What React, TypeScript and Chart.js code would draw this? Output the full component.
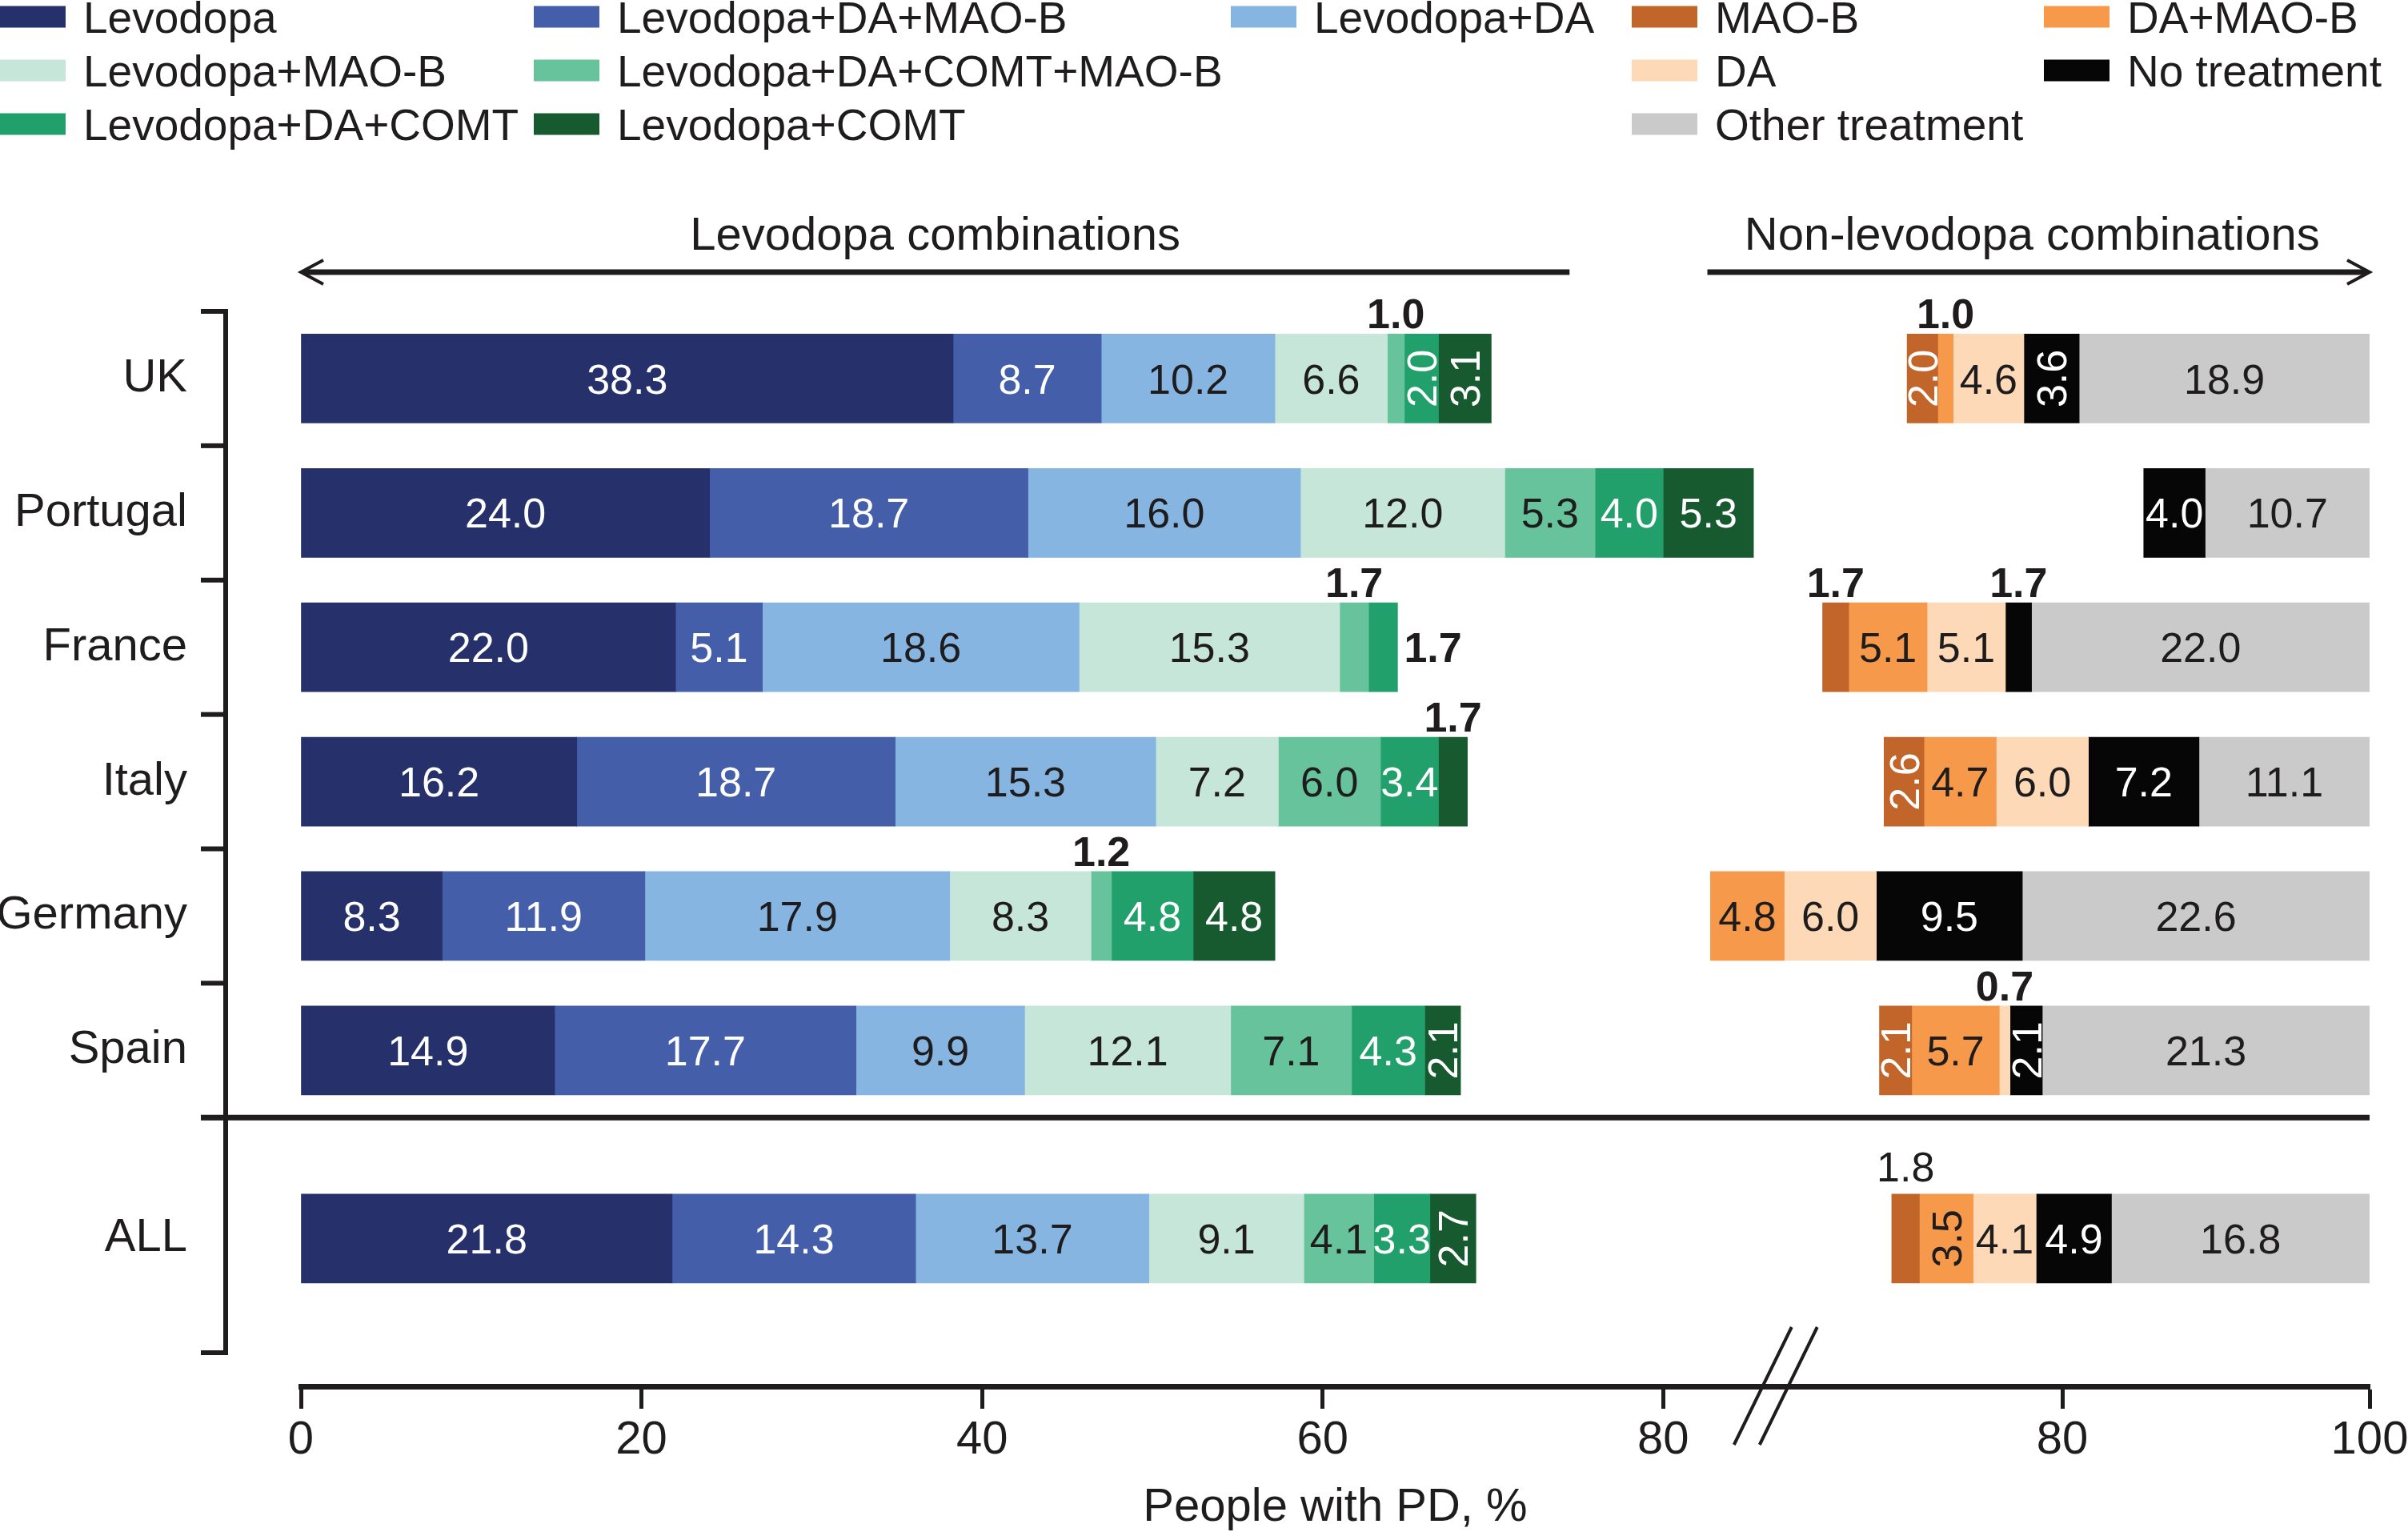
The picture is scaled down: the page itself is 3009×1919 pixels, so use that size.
import React, { useEffect, useRef } from 'react';
import { Chart, registerables } from 'chart.js';

Chart.register(...registerables);

// ---------------- Data ----------------
const countries = ['UK', 'Portugal', 'France', 'Italy', 'Germany', 'Spain', 'ALL'];

// Levodopa combinations (% of people with PD)
const levodopa = [38.3, 24.0, 22.0, 16.2, 8.3, 14.9, 21.8];
const levodopaDaMaob = [8.7, 18.7, 5.1, 18.7, 11.9, 17.7, 14.3];
const levodopaDa = [10.2, 16.0, 18.6, 15.3, 17.9, 9.9, 13.7];
const levodopaMaob = [6.6, 12.0, 15.3, 7.2, 8.3, 12.1, 9.1];
const levodopaDaComtMaob = [1.0, 5.3, 1.7, 6.0, 1.2, 7.1, 4.1];
const levodopaDaComt = [2.0, 4.0, 1.7, 3.4, 4.8, 4.3, 3.3];
const levodopaComt = [3.1, 5.3, 0, 1.7, 4.8, 2.1, 2.7];

// Non-levodopa combinations (% of people with PD)
const maob = [2.0, 0, 1.7, 2.6, 0, 2.1, 1.8];
const daMaob = [1.0, 0, 5.1, 4.7, 4.8, 5.7, 3.5];
const da = [4.6, 0, 5.1, 6.0, 6.0, 0.7, 4.1];
const noTreatment = [3.6, 4.0, 1.7, 7.2, 9.5, 2.1, 4.9];
const otherTreatment = [18.9, 10.7, 22.0, 11.1, 22.6, 21.3, 16.8];

const leftTickValues = [0, 20, 40, 60, 80];
const rightTickValues = [80, 100];

const leftSeries: [string, number[]][] = [
  ['Levodopa', levodopa],
  ['Levodopa+DA+MAO-B', levodopaDaMaob],
  ['Levodopa+DA', levodopaDa],
  ['Levodopa+MAO-B', levodopaMaob],
  ['Levodopa+DA+COMT+MAO-B', levodopaDaComtMaob],
  ['Levodopa+DA+COMT', levodopaDaComt],
  ['Levodopa+COMT', levodopaComt],
];
const rightSeries: [string, number[]][] = [
  ['MAO-B', maob],
  ['DA+MAO-B', daMaob],
  ['DA', da],
  ['No treatment', noTreatment],
  ['Other treatment', otherTreatment],
];

// ---------------- Styles / layout ----------------
const FONT = '"Liberation Sans", Arial, Helvetica, sans-serif';
const INK = '#1f1c1d';

const seriesColor: Record<string, string> = {
  'Levodopa': '#26316b',
  'Levodopa+DA+MAO-B': '#445eaa',
  'Levodopa+DA': '#86b5e1',
  'Levodopa+MAO-B': '#c6e6d9',
  'Levodopa+DA+COMT+MAO-B': '#67c39c',
  'Levodopa+DA+COMT': '#21a06b',
  'Levodopa+COMT': '#175a2f',
  'MAO-B': '#c1652b',
  'DA+MAO-B': '#f6994a',
  'DA': '#fdd9b7',
  'No treatment': '#060606',
  'Other treatment': '#c9cac9',
};
const seriesInk: Record<string, string> = {
  'Levodopa': '#ffffff',
  'Levodopa+DA+MAO-B': '#ffffff',
  'Levodopa+DA': INK,
  'Levodopa+MAO-B': INK,
  'Levodopa+DA+COMT+MAO-B': INK,
  'Levodopa+DA+COMT': '#ffffff',
  'Levodopa+COMT': '#ffffff',
  'MAO-B': '#ffffff',
  'DA+MAO-B': INK,
  'DA': INK,
  'No treatment': '#ffffff',
  'Other treatment': INK,
};

const legendGrid: (string | null)[][] = [
  ['Levodopa', 'Levodopa+DA+MAO-B', 'Levodopa+DA', 'MAO-B', 'DA+MAO-B'],
  ['Levodopa+MAO-B', 'Levodopa+DA+COMT+MAO-B', null, 'DA', 'No treatment'],
  ['Levodopa+DA+COMT', 'Levodopa+COMT', null, 'Other treatment', null],
];
const legendColX = [0, 667, 1538, 2039, 2554];
const legendRowY = [21, 88, 155];

// axis ranges (left part and right part share the plot width)
const X_MAX = 121.48;
const X2_MIN = -34.64;
const Y_MIN = -0.5;
const Y_MAX = 7.5;
const SUMMARY_GAP = 1.4;
const LEFT_ARROW_END = 74.5;
const RIGHT_ARROW_START = 56.9;
const BREAK_AT = 86.6;

const rowPos = countries.map((_, i) => (i < countries.length - 1 ? i : i - 1 + SUMMARY_GAP));
const toLeftAxis = (v: number) => ((v - X2_MIN) / (100 - X2_MIN)) * X_MAX;

function buildDatasets() {
  const sets: any[] = [];
  leftSeries.forEach(([label, vals], si) => {
    const data: any[] = [];
    vals.forEach((v, r) => {
      if (!(v > 0)) return;
      let start = 0;
      for (let k = 0; k < si; k++) start += leftSeries[k][1][r];
      data.push({ x: [start, start + v], y: rowPos[r], v, row: r });
    });
    sets.push({
      label, group: 'L', ink: seriesInk[label], xAxisID: 'x', yAxisID: 'y',
      backgroundColor: seriesColor[label], borderWidth: 0, grouped: false, barThickness: 111, data,
    });
  });
  rightSeries.forEach(([label, vals], si) => {
    const data: any[] = [];
    vals.forEach((v, r) => {
      if (!(v > 0)) return;
      let total = 0;
      rightSeries.forEach(([, vv]) => { total += vv[r]; });
      let start = 100 - total;
      for (let k = 0; k < si; k++) start += rightSeries[k][1][r];
      data.push({ x: [start, start + v], y: rowPos[r], v, row: r });
    });
    sets.push({
      label, group: 'R', ink: seriesInk[label], xAxisID: 'x2', yAxisID: 'y',
      backgroundColor: seriesColor[label], borderWidth: 0, grouped: false, barThickness: 111, data,
    });
  });
  return sets;
}

const segmentLabels = {
  id: 'segmentLabels',
  afterDatasetsDraw(chart: any) {
    const ctx = chart.ctx;
    const size = 52;
    const prevOutside: Record<string, boolean> = {};
    chart.data.datasets.forEach((ds: any, di: number) => {
      const meta = chart.getDatasetMeta(di);
      meta.data.forEach((el: any, i: number) => {
        const pt = ds.data[i];
        const { x, base, y, height } = el.getProps(['x', 'base', 'y', 'height'], true);
        const left = Math.min(x, base);
        const right = Math.max(x, base);
        const w = right - left;
        const cx = (left + right) / 2;
        const text = pt.v.toFixed(1);
        const key = ds.group + pt.row;
        const summary = pt.row === countries.length - 1;
        ctx.save();
        if (pt.v < 2) {
          ctx.font = `${summary ? 'normal' : 'bold'} ${size}px ${FONT}`;
          ctx.fillStyle = INK;
          ctx.textBaseline = 'alphabetic';
          if (prevOutside[key]) {
            ctx.textAlign = 'left';
            ctx.fillText(text, right + 8, y + size * 0.358);
          } else {
            ctx.textAlign = 'center';
            ctx.fillText(text, cx, y - height / 2 - (summary ? 16 : 7));
          }
          prevOutside[key] = true;
        } else {
          prevOutside[key] = false;
          ctx.font = `normal ${size}px ${FONT}`;
          ctx.fillStyle = ds.ink;
          ctx.textAlign = 'center';
          ctx.textBaseline = 'alphabetic';
          const tw = ctx.measureText(text).width;
          if (w >= tw - 3) {
            ctx.fillText(text, cx, y + size * 0.358);
          } else {
            ctx.translate(cx, y);
            ctx.rotate(-Math.PI / 2);
            ctx.fillText(text, 0, size * 0.358);
          }
        }
        ctx.restore();
      });
    });
  },
};

const decorations = {
  id: 'decorations',
  afterDraw(chart: any) {
    const ctx = chart.ctx;
    const xs = chart.scales.x;
    const x2s = chart.scales.x2;
    const ys = chart.scales.y;
    const area = chart.chartArea;
    ctx.save();
    ctx.strokeStyle = INK;
    ctx.fillStyle = INK;

    // ---- y axis line with boundary ticks (detached) ----
    const axisX = area.left - 94;
    const tickX = axisX - 31;
    const nCountries = countries.length - 1;
    const bottomVal = rowPos[countries.length - 1] + 0.85;
    ctx.lineWidth = 6;
    ctx.lineCap = 'butt';
    ctx.beginPath();
    ctx.moveTo(axisX, ys.getPixelForValue(Y_MIN) - 3);
    ctx.lineTo(axisX, ys.getPixelForValue(bottomVal) + 3);
    ctx.stroke();
    const bounds: number[] = [];
    for (let i = 0; i <= nCountries; i++) bounds.push(i - 0.5);
    bounds.push(bottomVal);
    bounds.forEach((b) => {
      const py = ys.getPixelForValue(b);
      ctx.beginPath();
      ctx.moveTo(tickX, py);
      ctx.lineTo(axisX, py);
      ctx.stroke();
    });
    // separator between countries and ALL
    ctx.lineWidth = 7;
    const sepY = ys.getPixelForValue(nCountries - 0.5);
    ctx.beginPath();
    ctx.moveTo(tickX, sepY);
    ctx.lineTo(area.right, sepY);
    ctx.stroke();

    // ---- axis break marks ----
    const bx = xs.getPixelForValue(BREAK_AT);
    const by = area.bottom;
    ctx.lineWidth = 4;
    [-16, 16].forEach((d) => {
      ctx.beginPath();
      ctx.moveTo(bx + d + 36, by - 74);
      ctx.lineTo(bx + d - 36, by + 73);
      ctx.stroke();
    });

    // ---- header arrows ----
    const lineY = 340;
    const textY = 312;
    const l0 = xs.getPixelForValue(0);
    const l1 = xs.getPixelForValue(LEFT_ARROW_END);
    const r0 = x2s.getPixelForValue(RIGHT_ARROW_START);
    const r1 = x2s.getPixelForValue(100);
    ctx.lineWidth = 7;
    ctx.beginPath();
    ctx.moveTo(l0 + 3, lineY);
    ctx.lineTo(l1, lineY);
    ctx.moveTo(r0, lineY);
    ctx.lineTo(r1 - 3, lineY);
    ctx.stroke();
    ctx.lineWidth = 4;
    ctx.lineJoin = 'miter';
    ctx.beginPath();
    ctx.moveTo(l0 + 28, lineY - 15);
    ctx.lineTo(l0, lineY);
    ctx.lineTo(l0 + 28, lineY + 15);
    ctx.moveTo(r1 - 28, lineY - 15);
    ctx.lineTo(r1, lineY);
    ctx.lineTo(r1 - 28, lineY + 15);
    ctx.stroke();
    ctx.font = `normal 58px ${FONT}`;
    ctx.textAlign = 'center';
    ctx.textBaseline = 'alphabetic';
    ctx.fillText('Levodopa combinations', (l0 + l1) / 2, textY);
    ctx.fillText('Non-levodopa combinations', (r0 + r1) / 2 - 8, textY);

    // ---- legend ----
    ctx.font = `normal 55px ${FONT}`;
    ctx.textAlign = 'left';
    legendGrid.forEach((row, ri) => {
      row.forEach((label, ci) => {
        if (!label) return;
        const ds = chart.data.datasets.find((d: any) => d.label === label);
        const cy = legendRowY[ri];
        const sx = legendColX[ci];
        ctx.fillStyle = ds ? ds.backgroundColor : '#999';
        ctx.fillRect(sx, cy - 13.5, 82, 27);
        ctx.fillStyle = INK;
        ctx.fillText(label, sx + 104, cy + 55 * 0.358);
      });
    });
    ctx.restore();
  },
};

export default function App() {
  const canvasRef = useRef<HTMLCanvasElement | null>(null);

  useEffect(() => {
    if (!canvasRef.current) return;
    Chart.defaults.font.family = FONT;
    Chart.defaults.color = INK;
    const chart = new Chart(canvasRef.current, {
      type: 'bar',
      data: { datasets: buildDatasets() } as any,
      options: {
        indexAxis: 'y',
        animation: false,
        responsive: false,
        devicePixelRatio: 1,
        events: [],
        layout: { padding: { top: 389, right: 48, bottom: 0, left: 0 } },
        plugins: { legend: { display: false }, tooltip: { enabled: false }, title: { display: false } },
        scales: {
          x: {
            type: 'linear',
            position: 'bottom',
            offset: false,
            min: 0,
            max: X_MAX,
            afterBuildTicks: (s: any) => {
              s.ticks = [
                ...leftTickValues.map((v) => ({ value: v, lbl: String(v) })),
                ...rightTickValues.map((v) => ({ value: toLeftAxis(v), lbl: String(v) })),
              ];
            },
            afterFit: (s: any) => {
              s.height = 187;
              s.paddingLeft = 0;
              s.paddingRight = 0;
            },
            ticks: {
              autoSkip: false,
              maxRotation: 0,
              minRotation: 0,
              padding: 5,
              color: INK,
              font: { size: 58 },
              callback: (_v: any, i: number, t: any[]) => t[i].lbl,
            },
            grid: {
              display: true,
              offset: false,
              drawOnChartArea: false,
              drawTicks: true,
              tickLength: 28,
              tickWidth: 5,
              tickColor: INK,
              color: INK,
            },
            border: { display: true, width: 7, color: INK },
            title: {
              display: true,
              text: 'People with PD, %',
              color: INK,
              font: { size: 58 },
              padding: { top: 0, bottom: 0 },
            },
          },
          x2: {
            type: 'linear',
            axis: 'x',
            position: 'bottom',
            offset: false,
            display: false,
            min: X2_MIN,
            max: 100,
          },
          y: {
            type: 'linear',
            reverse: true,
            offset: false,
            min: Y_MIN,
            max: Y_MAX,
            afterBuildTicks: (s: any) => {
              s.ticks = rowPos.map((v, i) => ({ value: v, lbl: countries[i] }));
            },
            afterFit: (s: any) => {
              s.width = 376;
              s.paddingTop = 0;
              s.paddingBottom = 0;
            },
            ticks: {
              autoSkip: false,
              padding: 142,
              color: INK,
              font: { size: 58 },
              callback: (_v: any, i: number, t: any[]) => t[i].lbl,
            },
            grid: { display: false, drawTicks: false, offset: false },
            border: { display: false },
          },
        },
      } as any,
      plugins: [segmentLabels, decorations],
    });
    return () => chart.destroy();
  }, []);

  return (
    <div
      style={{
        position: 'absolute',
        left: 0,
        top: 0,
        width: 3009,
        height: 1919,
        background: '#ffffff',
        overflow: 'hidden',
      }}
    >
      <canvas ref={canvasRef} width={3009} height={1919} style={{ display: 'block', width: 3009, height: 1919 }} />
    </div>
  );
}
